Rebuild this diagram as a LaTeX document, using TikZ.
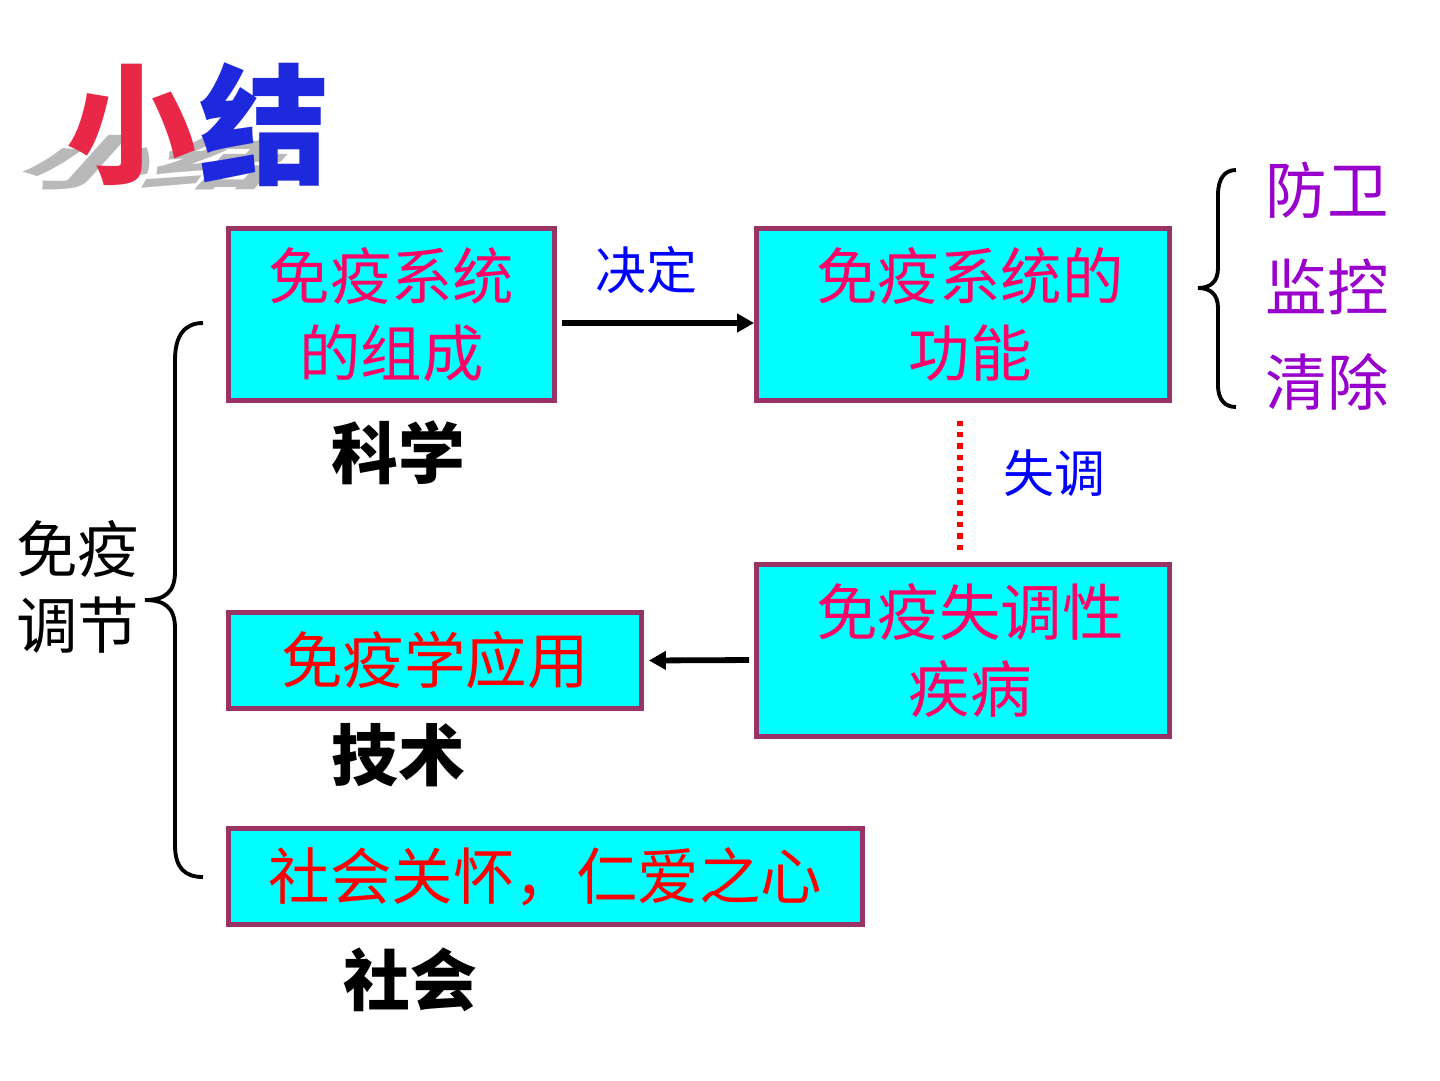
\documentclass[tikz,border=0pt]{standalone}
\usepackage{fontspec}
\setmainfont{Noto Sans CJK SC}
\usetikzlibrary{arrows.meta,calc}
\definecolor{boxline}{RGB}{153,51,102}
\definecolor{boxfill}{RGB}{0,255,255}
\definecolor{pinktxt}{RGB}{255,0,102}
\definecolor{redtxt}{RGB}{255,0,0}
\definecolor{bluetxt}{RGB}{0,0,255}
\definecolor{purptxt}{RGB}{153,0,204}
\definecolor{shadowgray}{RGB}{185,185,185}
\definecolor{titlered}{RGB}{232,40,70}
\definecolor{titleblue}{RGB}{30,40,220}
\begin{document}
\begin{tikzpicture}[x=0.02cm,y=-0.02cm,
  box/.style={draw=boxline,fill=boxfill,line width=2.8pt,inner sep=0pt,align=center,
    font=\fontsize{35}{44}\selectfont},
  pinkbox/.style={box,text=pinktxt},
  redbox/.style={box,text=redtxt},
  link/.style={line width=3.3pt,-{Triangle[length=0.34cm,width=0.36cm]}},
  lbl/.style={text=bluetxt,font=\fontsize{29}{34}\selectfont},
  tag/.style={font=\fontsize{38}{44}\selectfont\bfseries},
  brace/.style={line width=2.2pt},
  fn/.style={text=purptxt,font=\fontsize{35}{44}\selectfont}]
\useasboundingbox (0,0) rectangle (1440,1080);
\fill[white] (0,0) rectangle (1440,1080);
% title shadow and text
\node[text=shadowgray,font=\fontsize{74}{80}\selectfont\bfseries,transform shape,xslant=0.9,yscale=0.45] (tshadow) at (160,162) {小结};
\node[text=titlered,font=\fontsize{74}{80}\selectfont\bfseries] (t1) at (132,125) {小};
\node[text=titleblue,font=\fontsize{74}{80}\selectfont\bfseries] (t2) at (265,125) {结};
% boxes
\node[pinkbox,minimum width=6.52cm,minimum height=3.44cm] (b1) at (391.5,314.5) {免疫系统\\的组成};
\node[pinkbox,minimum width=8.26cm,minimum height=3.44cm] (b2) at (963,314.5) {\hspace*{0.28cm}免疫系统的\\\hspace*{0.28cm}功能};
\node[redbox,minimum width=8.26cm,minimum height=1.92cm] (b3) at (435,660.5) {免疫学应用};
\node[pinkbox,minimum width=8.26cm,minimum height=3.44cm] (b4) at (963,650.5) {\hspace*{0.28cm}免疫失调性\\\hspace*{0.28cm}疾病};
\node[redbox,minimum width=12.68cm,minimum height=1.92cm] (b5) at (545.5,876.5) {社会关怀，仁爱之心};
% connectors
\draw[link,shorten <=0.1cm] ($(b1.east)+(0,8.5)$) -- ($(b2.west)+(0,8.5)$);
\draw[link,shorten <=0.1cm,shorten >=0.1cm] ($(b4.west)+(0,9.5)$) -- (b3.east);
\draw[red,line width=3pt,dash pattern=on 3pt off 3.4pt] ($(b2.south)+(-3,18)$) -- ($(b4.north)+(-3,-10)$);
% labels
\node[lbl] (l1) at (646,270) {决定};
\node[lbl] (l2) at (1054,473) {失调};
\node[tag] (s1) at (398,453) {科学};
\node[tag] (s2) at (398,755) {技术};
\node[tag] (s3) at (410,980) {社会};
% left
\node[align=center,font=\fontsize{35}{43}\selectfont] (imm) at (78,587) {免疫\\调节};
\draw[brace] (203,323) .. controls (185,323) and (175,335) .. (175,360) -- (175,572)
  .. controls (175,592) and (165,600) .. (145,600)
  .. controls (165,600) and (175,608) .. (175,628) -- (175,845)
  .. controls (175,868) and (185,877) .. (203,877);
% right brace and functions
\draw[brace] (1236,170) .. controls (1225,170) and (1218,178) .. (1218,195) -- (1218,268)
  .. controls (1218,282) and (1210,288) .. (1198,288)
  .. controls (1210,288) and (1218,294) .. (1218,308) -- (1218,385)
  .. controls (1218,400) and (1225,407) .. (1236,407);
\node[fn] (f1) at (1327,190) {防卫};
\node[fn] (f2) at (1327,287) {监控};
\node[fn] (f3) at (1327,382) {清除};
\end{tikzpicture}
\end{document}
